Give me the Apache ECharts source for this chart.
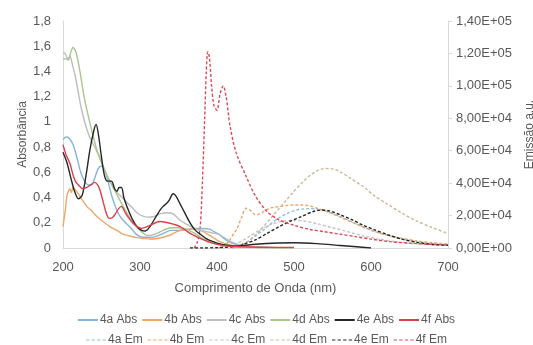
<!DOCTYPE html>
<html>
<head>
<meta charset="utf-8">
<script src="https://cdn.jsdelivr.net/npm/echarts@6/dist/echarts.min.js"></script>
<style>html,body{margin:0;padding:0;background:#fff}#c{width:533px;height:345px}</style>
</head>
<body>
<div id="c"></div>
<script>
// ---- data ----
const wl4aAbs = [200,204,208,213,218,223,228,233,237,241,245,250,254,258,263,268,273,278,283,288,295,304,312,320,330,340,350,360,370,380,390,396,402,408,415,421,430,440,460,480,500];
const abs4a   = [0.86,0.88,0.87,0.82,0.72,0.6,0.53,0.5,0.5,0.55,0.62,0.65,0.62,0.54,0.42,0.33,0.26,0.22,0.19,0.16,0.11,0.085,0.085,0.09,0.115,0.14,0.14,0.145,0.155,0.155,0.15,0.13,0.11,0.08,0.05,0.035,0.02,0.012,0.006,0.003,0.002];
const wl4bAbs = [200,203,205,207,209,211,213,216,220,225,231,238,244,252,261,270,278,287,296,305,313,322,330,340,348,355,362,369,375,380,386,393,400,408,417,425,435,450,470,500];
const abs4b   = [0.17,0.3,0.41,0.45,0.47,0.44,0.48,0.46,0.43,0.38,0.33,0.29,0.25,0.21,0.17,0.14,0.11,0.095,0.082,0.075,0.071,0.075,0.085,0.105,0.13,0.145,0.15,0.15,0.148,0.14,0.116,0.09,0.063,0.04,0.024,0.015,0.01,0.005,0.003,0.002];
const wl4cAbs = [200,203,206,209,212,216,220,224,230,236,243,250,257,263,270,277,283,290,296,303,310,318,326,335,343,352,360,369,378,386,394,402,410,420,430,440,460,500];
const abs4c   = [1.55,1.54,1.50,1.52,1.46,1.36,1.23,1.10,0.96,0.86,0.78,0.68,0.58,0.51,0.44,0.40,0.36,0.32,0.28,0.255,0.245,0.25,0.27,0.28,0.27,0.22,0.19,0.16,0.14,0.13,0.12,0.11,0.08,0.045,0.025,0.012,0.005,0.002];
const wl4dAbs = [200,204,207,210,213,217,222,228,235,243,250,257,265,272,280,290,300,310,320,330,340,350,360,370,380,390,400,420,440,470,500];
const abs4d   = [1.50,1.50,1.49,1.55,1.59,1.55,1.40,1.18,0.99,0.80,0.68,0.57,0.48,0.40,0.31,0.21,0.14,0.10,0.11,0.14,0.16,0.16,0.15,0.12,0.08,0.05,0.03,0.012,0.006,0.003,0.002];
const wl4eAbs = [200,205,210,215,220,225,230,235,240,243,246,250,254,258,263,267,270,273,276,279,283,290,296,302,307,313,318,322,326,330,334,338,343,347,352,358,365,372,378,386,395,405,413,425,450,480,500,530,560,600];
const abs4e   = [0.76,0.68,0.56,0.45,0.39,0.42,0.58,0.78,0.93,0.98,0.9,0.72,0.57,0.53,0.53,0.47,0.45,0.48,0.48,0.40,0.33,0.23,0.17,0.14,0.135,0.17,0.22,0.26,0.30,0.33,0.35,0.38,0.43,0.41,0.35,0.28,0.2,0.14,0.11,0.075,0.05,0.03,0.022,0.015,0.03,0.04,0.042,0.035,0.02,0.0];
const wl4fAbs = [200,204,209,213,216,220,226,231,236,241,245,248,252,256,260,264,268,272,276,280,284,289,294,302,313,326,339,352,365,378,395,413,440,470,500];
const abs4f   = [0.82,0.74,0.67,0.58,0.53,0.50,0.47,0.48,0.50,0.52,0.50,0.46,0.37,0.28,0.235,0.24,0.27,0.31,0.33,0.29,0.25,0.21,0.18,0.156,0.18,0.21,0.196,0.17,0.116,0.077,0.037,0.016,0.008,0.005,0.005];

const wl4aEm = [420,430,440,450,460,470,480,490,500,510,520,530,540,560,580,600,620,640,660,680,700];
const em4a   = [0,1500,4000,7500,11000,15000,18500,21000,23000,24000,24300,24000,23000,19500,15000,11000,8000,5500,3800,2600,2000];
const wl4bEm = [400,408,415,420,426,432,438,444,450,456,462,470,480,490,500,510,520,530,545,560,580,600,620,640,660,680,700];
const em4b   = [0,800,4000,7500,12000,19000,24500,23000,20500,21000,23000,24700,25500,26200,26500,26500,26000,24500,22000,19000,15000,11000,8000,6000,4300,3200,2500];
const wl4cEm = [410,425,440,455,470,485,500,515,530,550,570,590,610,630,650,670,700];
const em4c   = [0,2500,6500,11000,14500,16500,17000,16500,15000,12500,10000,7500,5500,4000,3000,2300,1600];
const wl4dEm = [420,430,440,450,460,470,480,490,500,510,520,530,540,550,560,575,590,605,620,640,660,680,700];
const em4d   = [0,1500,4000,8000,13000,18500,24000,29500,35000,40000,44500,47500,49000,48800,47000,42500,37800,32000,27500,21500,16500,12500,9000];
const wl4eEm = [365,380,400,420,435,450,465,480,495,510,525,535,545,560,575,590,605,620,640,660,680,700];
const em4e   = [0,0,200,800,2500,5000,9000,13000,16500,19500,22500,23400,23000,20500,17500,14000,11200,8500,5500,3500,2200,1700];
const wl4fEm = [370,374,378,381,384,386,388,390,393,396,400,404,408,412,417,425,438,450,465,480,500,520,540,560,580,600,625,650,675,700];
const em4f   = [0,3000,12000,40000,80000,108000,121000,118000,100000,88000,85000,95000,100000,93000,75000,58500,44000,32000,22500,17500,14000,11500,10000,8500,7000,5500,3900,3000,2300,1800];

const xTicks = [200,300,400,500,600,700];
const absNames = ['4a Abs','4b Abs','4c Abs','4d Abs','4e Abs','4f Abs'];
const emNames  = ['4a Em','4b Em','4c Em','4d Em','4e Em','4f Em'];

// ---- build ----
const zip = (xs, ys) => xs.map((x, i) => [x, ys[i]]);
const absData = [zip(wl4aAbs,abs4a), zip(wl4bAbs,abs4b), zip(wl4cAbs,abs4c), zip(wl4dAbs,abs4d), zip(wl4eAbs,abs4e), zip(wl4fAbs,abs4f)];
const emData  = [zip(wl4aEm,em4a), zip(wl4bEm,em4b), zip(wl4cEm,em4c), zip(wl4dEm,em4d), zip(wl4eEm,em4e), zip(wl4fEm,em4f)];
const absColors = ['#86b4dc','#eda868','#bdbdbd','#a8c68e','#262626','#dd3f4a'];
const emColors  = ['#8ec0e0','#eea56a','#c4c4c4','#c9bb95','#262626','#dd4a55'];

const series = [];
absNames.forEach((n, i) => series.push({
  name: n, type: 'line', yAxisIndex: 0, data: absData[i], smooth: 0.3,
  symbol: 'none', showSymbol: false, lineStyle: {color: absColors[i], width: 1.4},
  itemStyle: {color: absColors[i]}, z: 3
}));
emNames.forEach((n, i) => series.push({
  name: n, type: 'line', yAxisIndex: 1, data: emData[i], smooth: 0.3,
  symbol: 'none', showSymbol: false, lineStyle: {color: emColors[i], width: 1.4, type: [3, 2]},
  itemStyle: {color: emColors[i]}, z: 2
}));

const txt = '#595959';
const font = 'Liberation Sans, Arial, sans-serif';
const sciFmt = v => {
  if (v === 0) return '0,00E+00';
  const e = Math.floor(Math.log10(v) + 1e-9);
  const m = v / Math.pow(10, e);
  return m.toFixed(2).replace('.', ',') + 'E+' + String(e).padStart(2, '0');
};
const dashIcon = 'path://M0,0h3v1h-3z M5,0h3v1h-3z M10,0h3v1h-3z M15,0h3v1h-3z';

const chart = echarts.init(document.getElementById('c'), null, {renderer: 'canvas'});
chart.setOption({
  animation: false,
  backgroundColor: '#fff',
  textStyle: {fontFamily: font},
  grid: {left: 63, right: 85, top: 21, bottom: 97, containLabel: false, outerBoundsMode: 'none'},
  legend: [
    {data: absNames, top: 309, left: 'center', itemWidth: 20, itemHeight: 2, itemGap: 5, icon: 'rect',
     textStyle: {color: txt, fontSize: 12, fontFamily: font, padding: [0,0,0,-3]}},
    {data: emNames, top: 329, left: 'center', itemWidth: 20, itemHeight: 2, itemGap: 5, icon: dashIcon,
     textStyle: {color: txt, fontSize: 12, fontFamily: font, padding: [0,0,0,-3]}}
  ],
  xAxis: {
    type: 'value', min: 200, max: 700, interval: 100,
    name: 'Comprimento de Onda (nm)', nameLocation: 'middle', nameGap: 34, nameMoveOverlap: false,
    nameTextStyle: {color: txt, fontSize: 13, fontFamily: font},
    axisLine: {lineStyle: {color: '#d9d9d9', width: 1}},
    axisTick: {show: false},
    axisLabel: {color: txt, fontSize: 13, margin: 13, fontFamily: font},
    splitLine: {show: false}
  },
  yAxis: [
    {
      type: 'value', min: 0, max: 1.8, interval: 0.2, position: 'left',
      name: 'Absorbância', nameLocation: 'middle', nameGap: 34, nameRotate: 90, nameMoveOverlap: false,
      nameTextStyle: {color: txt, fontSize: 12, fontFamily: font},
      axisLine: {show: true, lineStyle: {color: '#d9d9d9'}},
      axisTick: {show: false},
      axisLabel: {color: txt, fontSize: 13, margin: 12, fontFamily: font,
                  formatter: v => String(+v.toFixed(1)).replace('.', ',')},
      splitLine: {show: false}
    },
    {
      type: 'value', min: 0, max: 140000, interval: 20000, position: 'right',
      name: 'Emissão a.u.', nameLocation: 'middle', nameGap: 76, nameRotate: 90, nameMoveOverlap: false,
      nameTextStyle: {color: txt, fontSize: 12, fontFamily: font},
      axisLine: {show: true, lineStyle: {color: '#d9d9d9'}},
      axisTick: {show: true, length: 4, inside: false, lineStyle: {color: '#d9d9d9'}},
      axisLabel: {color: txt, fontSize: 13, margin: 8, fontFamily: font, formatter: sciFmt},
      splitLine: {show: false}
    }
  ],
  series: series
});
</script>
</body>
</html>
